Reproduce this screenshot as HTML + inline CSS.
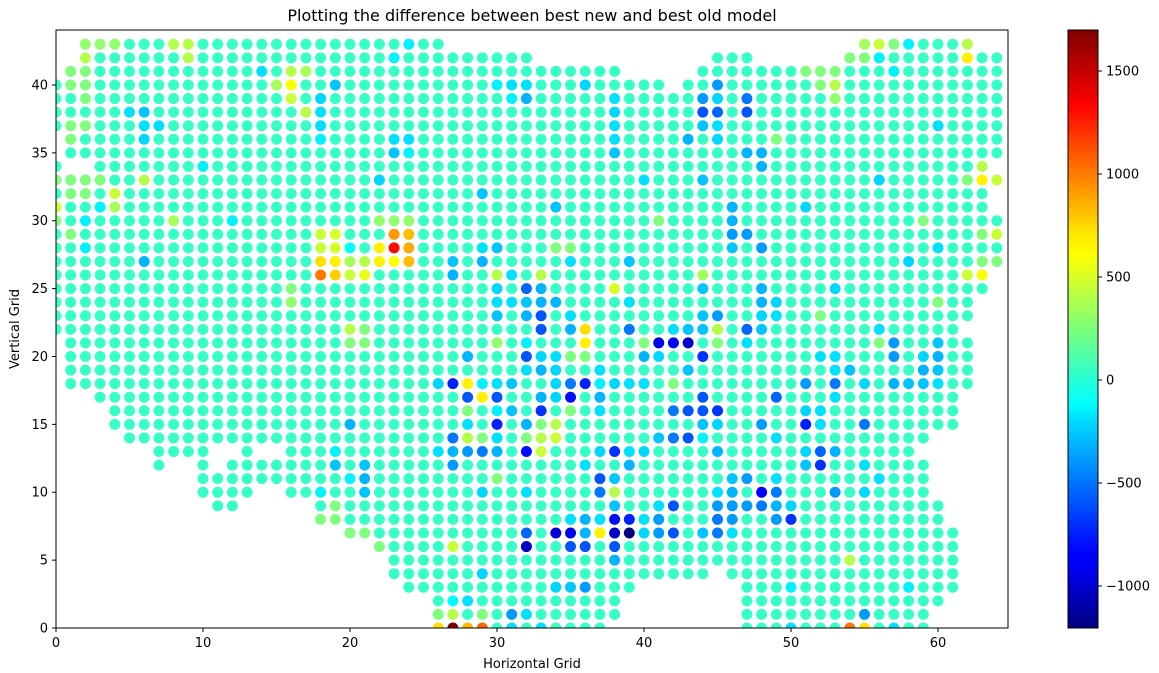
<!DOCTYPE html>
<html><head><meta charset="utf-8"><style>
body{margin:0;background:#fff;}
svg{display:block;font-family:"DejaVu Sans","Liberation Sans",sans-serif;}
</style></head><body>
<svg id="chart" width="1159" height="673" viewBox="0 0 1159 673" xmlns="http://www.w3.org/2000/svg">
<defs>
<clipPath id="plotclip"><rect x="56" y="30" width="952" height="598"/></clipPath>
<linearGradient id="jet" x1="0" y1="1" x2="0" y2="0">
<stop offset="0" stop-color="#000080"/><stop offset="0.11" stop-color="#0000ff"/><stop offset="0.125" stop-color="#0000ff"/>
<stop offset="0.34" stop-color="#00d4ff"/><stop offset="0.375" stop-color="#00ffff"/><stop offset="0.5" stop-color="#7dff7a"/>
<stop offset="0.625" stop-color="#ffff00"/><stop offset="0.66" stop-color="#ffe600"/><stop offset="0.875" stop-color="#ff0000"/><stop offset="1" stop-color="#800000"/>
</linearGradient>
</defs>
<text x="532" y="21" text-anchor="middle" font-size="16">Plotting the difference between best new and best old model</text>
<g id="points" clip-path="url(#plotclip)"></g>
<rect x="56" y="30" width="952" height="598" fill="none" stroke="#000" stroke-width="1"/>
<g id="xticks"></g>
<g id="yticks"></g>
<text x="532" y="668" text-anchor="middle" font-size="13">Horizontal Grid</text>
<text x="19" y="329" text-anchor="middle" font-size="13" transform="rotate(-90 19 329)">Vertical Grid</text>
<rect x="1068" y="30" width="30" height="598" fill="url(#jet)" stroke="#000" stroke-width="1"/>
<g id="cbticks"></g>
</svg>
<script>
// grid shape: for each row y (0..43), horizontal segments [xStart, xEnd]
const rowSegments = [
 [[26,37],[47,59]],[[26,38],[47,59]],[[26,38],[47,60]],[[24,39],[47,61]],[[23,44],[46,61]],
 [[23,61]],[[22,61]],[[20,61]],[[18,60]],[[11,12],[18,60]],
 [[10,13],[16,59]],[[10,59]],[[7,7],[10,10],[12,59]],[[7,10],[13,13],[16,58]],[[5,59]],
 [[4,61]],[[4,61]],[[3,61]],[[1,62]],[[1,62]],
 [[1,62]],[[1,62]],[[0,61]],[[0,62]],[[0,62]],
 [[0,63]],[[0,63]],[[0,64]],[[0,64]],[[0,64]],
 [[0,64]],[[0,63]],[[0,63]],[[0,64]],[[0,0],[3,63]],
 [[1,64]],[[1,64]],[[0,64]],[[0,64]],[[0,64]],
 [[0,41],[43,64]],[[1,38],[44,64]],[[2,32],[45,47],[54,64]],[[2,26],[55,62]]
];
const baseValue = 40;
// notable points [x, y, value]
const pointValues = [
[26,0,700],[27,0,1700],[28,0,800],[29,0,1050],[31,0,-200],[33,0,-200],[50,0,-200],[54,0,1000],[55,0,700],[57,0,-200],
[26,1,250],[27,1,400],[29,1,250],[31,1,-400],[32,1,-200],[55,1,-400],
[27,2,-120],[28,2,-200],[34,3,-230],[35,3,-280],[36,3,-400],[50,3,-150],[58,3,-150],
[29,4,-230],[38,5,-330],[54,5,400],
[27,6,450],[32,6,-1000],[35,6,-600],[36,6,-600],[38,6,-600],[22,6,250],
[32,7,-550],[34,7,-950],[35,7,-900],[36,7,-330],[37,7,650],[38,7,-1000],[39,7,-1200],[40,7,-230],[41,7,-400],[42,7,-600],[44,7,-280],[45,7,-500],[46,7,-200],[20,7,250],[21,7,250],
[35,8,-200],[36,8,-330],[37,8,-200],[38,8,-800],[39,8,-750],[40,8,-200],[41,8,-400],[45,8,-500],[46,8,-400],[49,8,-400],[50,8,-700],[18,8,250],[19,8,250],
[38,9,-280],[41,9,-200],[42,9,-600],[45,9,-400],[46,9,-400],[47,9,-400],[48,9,-500],[49,9,-330],[50,9,-230],[19,9,250],
[29,10,-230],[32,10,-200],[37,10,-500],[38,10,400],[45,10,-200],[46,10,-330],[48,10,-850],[49,10,-500],[53,10,-400],[55,10,-230],[21,10,-280],[18,10,-150],
[30,11,250],[37,11,-600],[38,11,-280],[46,11,-280],[47,11,-400],[49,11,-200],[56,11,-200],[20,11,-150],[21,11,-330],
[27,12,-400],[36,12,-200],[39,12,-330],[51,12,-280],[52,12,-700],[55,12,-200],[19,12,-280],[21,12,-280],
[26,13,-200],[27,13,-330],[28,13,-400],[29,13,-500],[30,13,-330],[32,13,-800],[33,13,450],[37,13,-230],[38,13,-700],[39,13,-200],[40,13,-230],[45,13,-330],[51,13,-230],[52,13,-550],[53,13,-330],[19,13,-150],
[27,14,-500],[28,14,400],[29,14,250],[30,14,-200],[32,14,250],[33,14,400],[34,14,450],[41,14,-280],[42,14,-500],[43,14,-600],[44,14,-150],[49,14,-200],
[28,15,-200],[30,15,-750],[32,15,-330],[33,15,250],[34,15,400],[44,15,-280],[45,15,-230],[48,15,-400],[51,15,-750],[52,15,-200],[55,15,-500],[20,15,-330],
[28,16,250],[30,16,-150],[31,16,-280],[33,16,-700],[35,16,250],[37,16,-200],[42,16,-500],[43,16,-600],[44,16,-600],[45,16,-700],[51,16,-230],[52,16,-200],
[28,17,-600],[29,17,650],[30,17,-600],[33,17,-330],[34,17,-230],[35,17,-800],[37,17,-330],[44,17,-600],[49,17,-550],[53,17,-200],
[26,18,-230],[27,18,-750],[28,18,650],[29,18,-150],[30,18,-200],[31,18,-280],[34,18,-230],[35,18,-500],[36,18,-750],[37,18,-150],[38,18,-230],[39,18,-200],[40,18,-200],[42,18,250],[51,18,-400],[53,18,-500],[55,18,-230],[57,18,-330],[58,18,-280],[59,18,-280],[60,18,-200],
[32,19,-200],[33,19,-330],[34,19,-230],[37,19,-200],[43,19,-280],[53,19,-200],[54,19,-280],[59,19,-330],[60,19,-280],
[28,20,-330],[32,20,-600],[33,20,-230],[34,20,-200],[35,20,250],[36,20,250],[40,20,-330],[41,20,-230],[44,20,-700],[52,20,-200],[53,20,-200],[57,20,-400],[59,20,-230],[60,20,-330],
[30,21,300],[32,21,-150],[36,21,650],[40,21,250],[41,21,-900],[42,21,-850],[43,21,-1000],[45,21,250],[47,21,-200],[56,21,250],[57,21,-400],[60,21,-280],[20,21,250],[21,21,250],
[33,22,-600],[35,22,-330],[36,22,700],[39,22,-500],[42,22,-200],[43,22,-280],[44,22,-280],[45,22,400],[47,22,-550],[48,22,-280],[56,22,-200],[20,22,400],[21,22,250],
[30,23,-280],[32,23,-330],[33,23,-600],[35,23,-200],[44,23,-280],[45,23,-400],[48,23,-230],[49,23,-200],[52,23,250],
[30,24,-200],[31,24,-200],[32,24,-280],[33,24,-330],[34,24,-330],[39,24,-200],[48,24,-330],[49,24,-230],[60,24,250],[16,24,300],
[30,25,-230],[32,25,-550],[33,25,-330],[38,25,500],[44,25,-280],[48,25,-330],[53,25,-230],[16,25,250],
[18,26,1000],[19,26,750],[20,26,450],[21,26,550],[27,26,-330],[30,26,400],[31,26,-200],[33,26,400],[44,26,350],[62,26,450],[63,26,600],
[18,27,700],[19,27,650],[20,27,350],[21,27,400],[22,27,650],[23,27,600],[24,27,800],[6,27,-330],[27,27,-280],[29,27,-330],[35,27,-200],[39,27,-280],[58,27,-230],[63,27,250],[64,27,250],
[18,28,450],[19,28,500],[20,28,-100],[22,28,650],[23,28,1300],[24,28,850],[29,28,-200],[30,28,-280],[34,28,250],[35,28,250],[46,28,-280],[48,28,-400],[60,28,-200],[2,28,-150],
[18,29,450],[19,29,500],[23,29,900],[24,29,800],[46,29,-400],[47,29,-400],[63,29,250],[64,29,450],
[22,30,300],[23,30,300],[24,30,300],[41,30,250],[46,30,-330],[59,30,250],[2,30,-150],[8,30,350],[12,30,-150],
[0,31,450],[3,31,-150],[4,31,350],[34,31,-280],[46,31,-330],[51,31,-230],
[4,32,450],[29,32,-280],
[6,33,400],[22,33,-230],[40,33,-200],[44,33,-280],[56,33,-230],[62,33,250],[63,33,650],[64,33,450],
[10,34,-150],[48,34,-330],[63,34,400],
[23,35,-280],[24,35,-150],[38,35,-280],[47,35,-330],[48,35,-330],
[6,36,-230],[18,36,-150],[23,36,-200],[24,36,-200],[38,36,-200],[43,36,-330],[45,36,-230],[49,36,250],
[6,37,-200],[7,37,-200],[18,37,-200],[38,37,-200],[44,37,-280],[45,37,-200],[60,37,-200],
[5,38,-200],[6,38,-280],[17,38,400],[18,38,-200],[38,38,-230],[44,38,-600],[45,38,-550],[47,38,-600],
[16,39,450],[18,39,-230],[31,39,-150],[32,39,-330],[38,39,-200],[44,39,-400],[45,39,-230],[47,39,-500],[53,39,300],
[15,40,350],[16,40,600],[19,40,-280],[30,40,-150],[31,40,-200],[32,40,-200],[36,40,-230],[45,40,-400],[52,40,250],[53,40,400],
[14,41,-200],[16,41,400],[17,41,350],[51,41,250],[52,41,250],[53,41,250],[57,41,-150],
[2,42,400],[9,42,400],[23,42,-150],[54,42,250],[55,42,250],[56,42,-150],[62,42,650],
[2,43,300],[3,43,300],[4,43,300],[8,43,400],[9,43,400],[24,43,-150],[55,43,350],[56,43,450],[57,43,250],[58,43,-150],[62,43,400],
[1,41,250],[2,41,250],[1,40,250],[2,40,250],[2,39,250],[1,37,250],[2,37,250],[1,36,250],[1,33,250],[2,33,250],[3,33,250],[0,33,250],[1,32,250],[2,32,250],[0,30,250],[1,29,250]
];
const xTicks = [0,10,20,30,40,50,60];
const yTicks = [0,5,10,15,20,25,30,35,40];
const cbTicks = [-1000,-500,0,500,1000,1500];
const cbTickLabels = ["\u22121000","\u2212500","0","500","1000","1500"];
const vmin = -1204, vmax = 1699;

const X0=56, X1=1008, Y0=628, Y1=30;
const xMin=0, xMax=64.76, yMin=0, yMax=44.05;
function sx(v){return X0+(v-xMin)/(xMax-xMin)*(X1-X0);}
function sy(v){return Y0-(v-yMin)/(yMax-yMin)*(Y0-Y1);}
function scb(v){return 628-(v-vmin)/(vmax-vmin)*598;}
function clip(a){return Math.max(0,Math.min(1,a));}
function jet(v){
  const t=clip((v-vmin)/(vmax-vmin));
  const r=clip(1.5-Math.abs(4*t-3)), g=clip(1.5-Math.abs(4*t-2)), b=clip(1.5-Math.abs(4*t-1));
  return `rgb(${Math.round(r*255)},${Math.round(g*255)},${Math.round(b*255)})`;
}
const NS='http://www.w3.org/2000/svg';
const valMap={};
pointValues.forEach(p=>{valMap[p[0]+','+p[1]]=p[2];});
const gp=document.getElementById('points');
rowSegments.forEach((segs,y)=>{
  segs.forEach(s=>{
    for(let x=s[0];x<=s[1];x++){
      const v=(valMap[x+','+y]!==undefined)?valMap[x+','+y]:baseValue;
      const c=document.createElementNS(NS,'circle');
      c.setAttribute('cx',sx(x).toFixed(2));
      c.setAttribute('cy',sy(y).toFixed(2));
      c.setAttribute('r','5.5');
      c.setAttribute('fill',jet(v));
      
      
      gp.appendChild(c);
    }
  });
});
const gx=document.getElementById('xticks');
xTicks.forEach(t=>{
  const x=sx(t);
  const l=document.createElementNS(NS,'line');
  l.setAttribute('x1',x);l.setAttribute('x2',x);l.setAttribute('y1',628);l.setAttribute('y2',632);l.setAttribute('stroke','#000');
  
  
  gx.appendChild(l);
  const tx=document.createElementNS(NS,'text');
  tx.setAttribute('x',x);tx.setAttribute('y',647);tx.setAttribute('text-anchor','middle');tx.setAttribute('font-size','13');
  tx.textContent=t;
  
  
  gx.appendChild(tx);
});
const gy=document.getElementById('yticks');
yTicks.forEach(t=>{
  const y=sy(t);
  const l=document.createElementNS(NS,'line');
  l.setAttribute('x1',52);l.setAttribute('x2',56);l.setAttribute('y1',y);l.setAttribute('y2',y);l.setAttribute('stroke','#000');
  
  
  gy.appendChild(l);
  const tx=document.createElementNS(NS,'text');
  tx.setAttribute('x',48);tx.setAttribute('y',y+4.5);tx.setAttribute('text-anchor','end');tx.setAttribute('font-size','13');
  tx.textContent=t;
  
  
  gy.appendChild(tx);
});
const gc=document.getElementById('cbticks');
cbTicks.forEach((t,i)=>{
  const y=scb(t);
  const l=document.createElementNS(NS,'line');
  l.setAttribute('x1',1098);l.setAttribute('x2',1102);l.setAttribute('y1',y);l.setAttribute('y2',y);l.setAttribute('stroke','#000');
  
  
  gc.appendChild(l);
  const tx=document.createElementNS(NS,'text');
  tx.setAttribute('x',1106);tx.setAttribute('y',y+4.5);tx.setAttribute('font-size','13');
  tx.textContent=cbTickLabels[i];
  
  
  gc.appendChild(tx);
});
</script>
</body></html>
